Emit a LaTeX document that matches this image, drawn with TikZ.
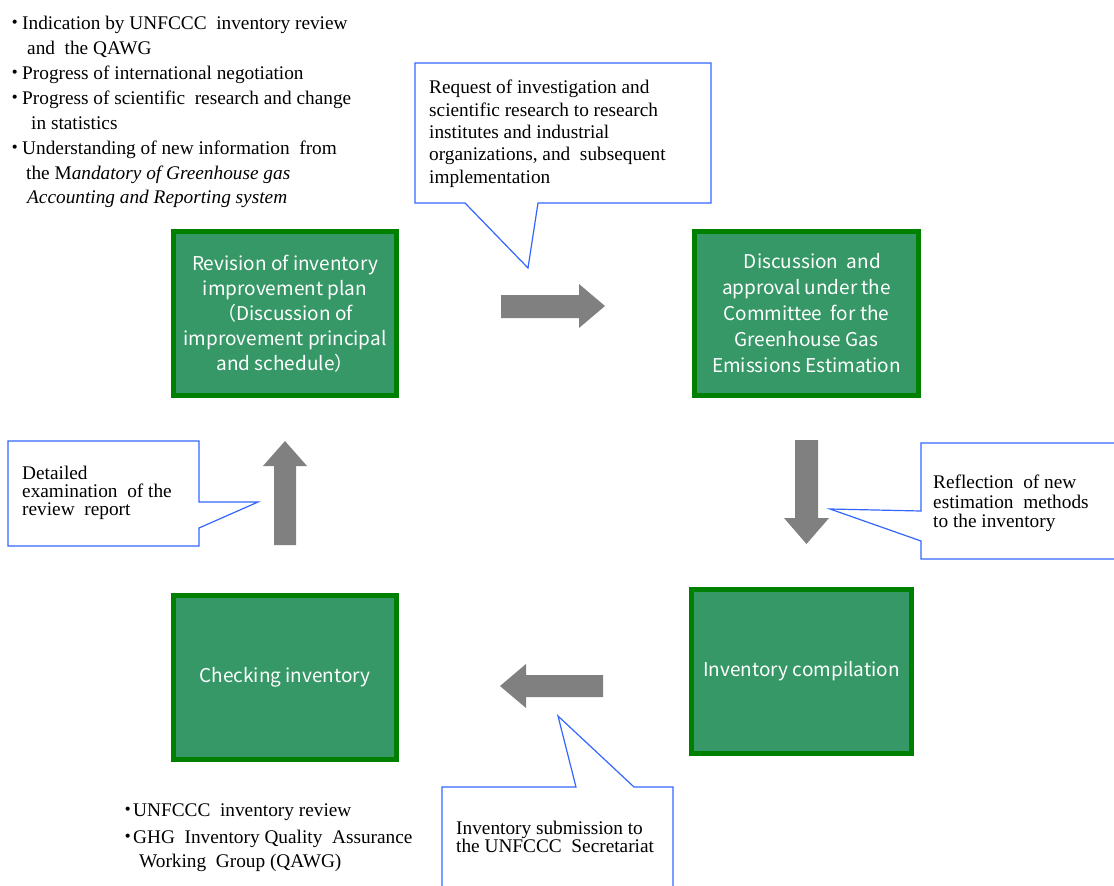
\documentclass[tikz,border=0pt]{standalone}
\usepackage{fontspec}
\setmainfont{Liberation Serif}
\newfontfamily\gothic{Noto Sans CJK JP}
\definecolor{gfill}{RGB}{53,152,102}
\definecolor{gborder}{RGB}{0,128,0}
\definecolor{cblue}{RGB}{51,102,255}
\definecolor{agray}{RGB}{128,128,128}
\newcommand\bul[1][2.5pt]{\llap{{\gothic ・}\hspace{-#1}}}
\tikzset{
  gbox/.style={draw=gborder, line width=5pt, fill=gfill, text=white,
    font=\gothic\fontsize{19}{25}\selectfont, align=center, inner sep=0pt},
  txt/.style={anchor=base west, inner sep=0pt, font=\fontsize{19.3}{22}\selectfont},
  callout/.style={draw=cblue, line width=1.2pt, fill=white, line join=miter},
  blockarrow/.style={fill=agray}
}
\begin{document}
\begin{tikzpicture}[x=1pt,y=-1pt]
\path[use as bounding box] (0,0) rectangle (1114,886);
\clip (0,0) rectangle (1114,886);

% ---------- top-left bullet list ----------
\node[txt] (t1) at (22,29) {\bul Indication by UNFCCC\ \ inventory review};
\node[txt] (t2) at (27,54) {and\ \ the QAWG};
\node[txt] (t3) at (22,79) {\bul Progress of international negotiation};
\node[txt] (t4) at (22,104) {\bul Progress of scientific\ \ research and change};
\node[txt] (t5) at (31,129) {in statistics};
\node[txt] (t6) at (22,154) {\bul Understanding of new information\ \ from};
\node[txt] (t7) at (26,179) {the M\textit{andatory of Greenhouse gas}};
\node[txt] (t8) at (27,203) {\textit{Accounting and Reporting system}};

% ---------- callouts ----------
% top
\draw[callout] (415,63) -- (711,63) -- (711,203) -- (538,203) -- (528,268) -- (465,203) -- (415,203) -- cycle;
\node[txt] (c1a) at (429,93) {Request of investigation and};
\node[txt] (c1b) at (429,116) {scientific research to research};
\node[txt] (c1c) at (429,138) {institutes and industrial};
\node[txt] (c1d) at (429,160) {organizations, and\ \ subsequent};
\node[txt] (c1e) at (429,183) {implementation};
% right
\draw[callout] (1130,443) -- (921,443) -- (921,511) -- (830,509) -- (921,541) -- (921,559) -- (1130,559);
\node[txt] (c2a) at (933,488) {Reflection\ \ of new};
\node[txt] (c2b) at (933,508) {estimation\ \ methods};
\node[txt] (c2c) at (933,527) {to the inventory};
% left
\draw[callout] (8,441) -- (199,441) -- (199,502) -- (258,502) -- (199,528) -- (199,546) -- (8,546) -- cycle;
\node[txt] (c3a) at (22,479) {Detailed};
\node[txt] (c3b) at (22,497) {examination\ \ of the};
\node[txt] (c3c) at (22,515) {review\ \ report};
% bottom
\draw[callout] (442,900) -- (442,787) -- (576,787) -- (558,716) -- (634,787) -- (673,787) -- (673,900);
\node[txt] (c4a) at (456,834) {Inventory submission to};
\node[txt] (c4b) at (456,852) {the UNFCCC\ \ Secretariat};

% ---------- bottom bullet list ----------
\node[txt] (b1) at (133,816) {\bul[4.25pt]UNFCCC\ \ inventory review};
\node[txt] (b2) at (133,843) {\bul[4.25pt]GHG\ \ Inventory Quality\ \ Assurance};
\node[txt] (b3) at (139,867) {Working\ \ Group (QAWG)};

% ---------- green boxes ----------
\node[gbox, minimum width=223pt, minimum height=164pt] (rev) at (285,313.5)
  {Revision of inventory\\improvement plan\\（Discussion of\\improvement principal\\and schedule）};
\node[gbox, minimum width=224pt, minimum height=164pt, font=\gothic\fontsize{19}{26}\selectfont] (disc) at (806.5,313.5)
  {\hspace*{12pt}Discussion\ \ and\\approval under the\\Committee\ \ for the\\Greenhouse Gas\\Emissions Estimation};
\node[gbox, minimum width=220pt, minimum height=164pt] (comp) at (801.5,671.5) {Inventory compilation};
\node[gbox, minimum width=223pt, minimum height=164pt] (check) at (285,677.5) {Checking inventory};

% ---------- block arrows ----------
\fill[blockarrow] (501,295) -- (579,295) -- (579,284) -- (605,306) -- (579,328) -- (579,318) -- (501,318) -- cycle;
\fill[blockarrow] (795,440) -- (818,440) -- (818,518) -- (829,518) -- (806.5,544) -- (784,518) -- (795,518) -- cycle;
\fill[blockarrow] (603,675) -- (526,675) -- (526,664) -- (500,686) -- (526,708) -- (526,697) -- (603,697) -- cycle;
\fill[blockarrow] (274,545) -- (274,466) -- (263,466) -- (285,441) -- (307,466) -- (296,466) -- (296,545) -- cycle;
\end{tikzpicture}
\end{document}
